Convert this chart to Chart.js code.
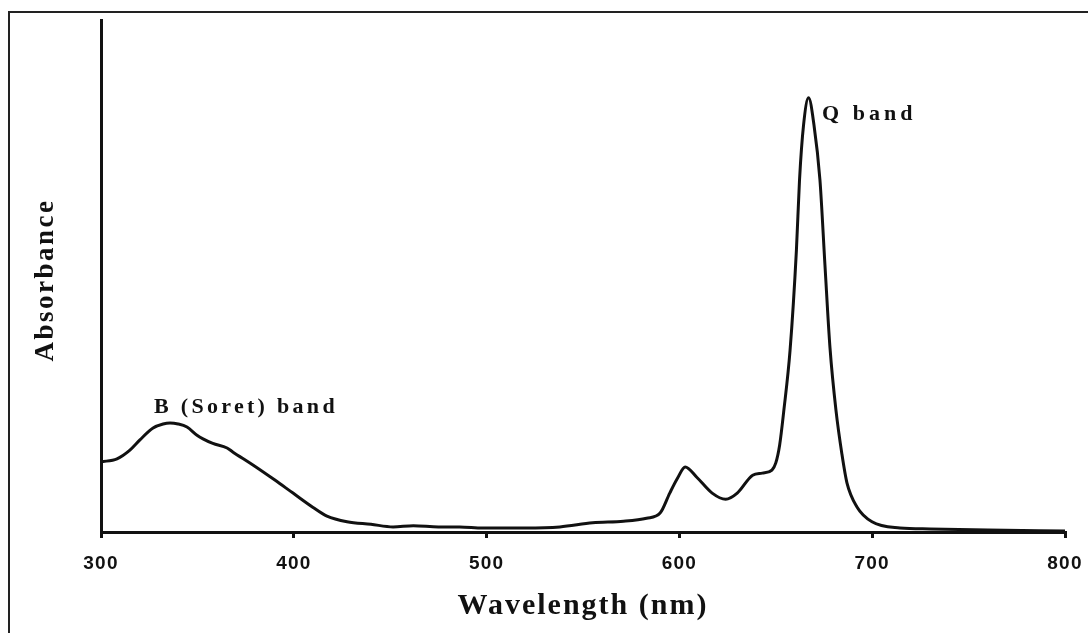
<!DOCTYPE html>
<html>
<head>
<meta charset="utf-8">
<script src="https://cdn.jsdelivr.net/npm/chart.js@4.4.1/dist/chart.umd.min.js"></script>
<style>
  html, body { margin: 0; padding: 0; background: #fff; }
  canvas { display: block; }
</style>
</head>
<body>
<canvas id="c" width="1088" height="633"></canvas>
<script>
// ---- data ----
const wavelengths = [300, 308.3, 315, 320.2, 327, 332.2, 335.8, 340, 344.6, 349.8, 352.9, 358, 365.4, 368.5, 378.8, 390, 399.6, 410, 417.2, 427.6, 440, 451.5, 462, 475, 486, 498, 520, 538, 555, 571, 583, 590, 595, 599, 603, 609, 617, 624, 630, 638, 643, 648, 650, 652, 654.1, 657.4, 660.7, 662.3, 664.4, 667, 669.8, 672.9, 675.5, 678.1, 681.2, 684.3, 686.9, 692.1, 699.9, 714.4, 730, 760, 800];
const absorbance  = [0.137, 0.143, 0.160, 0.180, 0.203, 0.211, 0.213, 0.211, 0.205, 0.189, 0.182, 0.173, 0.164, 0.156, 0.131, 0.102, 0.076, 0.048, 0.031, 0.020, 0.015, 0.010, 0.012, 0.010, 0.010, 0.008, 0.008, 0.010, 0.018, 0.021, 0.027, 0.037, 0.076, 0.105, 0.127, 0.107, 0.076, 0.064, 0.076, 0.111, 0.115, 0.121, 0.135, 0.170, 0.235, 0.355, 0.551, 0.6875, 0.795, 0.848, 0.795, 0.6875, 0.521, 0.360, 0.238, 0.152, 0.096, 0.049, 0.020, 0.008, 0.006, 0.004, 0.002];
const xTicks = [300, 400, 500, 600, 700, 800];
const xTitle = 'Wavelength (nm)';
const yTitle = 'Absorbance';
const annotations = [
  { text: 'Q band', x: 674.0, y: 0.805, spacing: 4 },
  { text: 'B (Soret) band', x: 327.5, y: 0.232, spacing: 3.3 }
];

const points = wavelengths.map((w, i) => ({ x: w, y: absorbance[i] }));

const decor = {
  id: 'decor',
  beforeDraw(chart) {
    const ctx = chart.ctx;
    ctx.save();
    ctx.fillStyle = '#fff';
    ctx.fillRect(0, 0, chart.width, chart.height);
    ctx.restore();
    ctx.letterSpacing = '1.2px';
  },
  afterDraw(chart) {
    const ctx = chart.ctx;
    const a = chart.chartArea;
    const xs = chart.scales.x, ys = chart.scales.y;
    ctx.save();
    // frame (left + top)
    ctx.strokeStyle = '#222';
    ctx.lineWidth = 2;
    ctx.beginPath();
    ctx.moveTo(9, chart.height);
    ctx.lineTo(9, 12);
    ctx.lineTo(chart.width, 12);
    ctx.stroke();

    ctx.fillStyle = '#111';
    // x title
    ctx.letterSpacing = '2px';
    ctx.font = 'bold 30px "Liberation Serif", "Times New Roman", serif';
    ctx.textAlign = 'center';
    ctx.textBaseline = 'alphabetic';
    ctx.fillText(xTitle, (a.left + a.right) / 2, 614);
    // y title
    ctx.save();
    ctx.letterSpacing = '2.5px';
    ctx.font = 'bold 27px "Liberation Serif", "Times New Roman", serif';
    ctx.translate(53, (a.top + a.bottom) / 2 + 4);
    ctx.rotate(-Math.PI / 2);
    ctx.fillText(yTitle, 0, 0);
    ctx.restore();
    // annotations
    ctx.textAlign = 'left';
    ctx.font = 'bold 22px "Liberation Serif", "Times New Roman", serif';
    annotations.forEach(an => {
      ctx.letterSpacing = an.spacing + 'px';
      ctx.fillText(an.text, xs.getPixelForValue(an.x), ys.getPixelForValue(an.y));
    });
    ctx.restore();
    ctx.letterSpacing = '0px';
  }
};

new Chart(document.getElementById('c'), {
  type: 'line',
  data: {
    datasets: [{
      data: points,
      borderColor: '#111',
      borderWidth: 3,
      pointRadius: 0,
      fill: false,
      cubicInterpolationMode: 'monotone',
      tension: 0.4
    }]
  },
  options: {
    responsive: false,
    animation: false,
    events: [],
    layout: { padding: { left: 0, right: 23, top: 20, bottom: 0 } },
    plugins: { legend: { display: false }, tooltip: { enabled: false }, title: { display: false } },
    scales: {
      x: {
        type: 'linear',
        min: 300, max: 800,
        afterBuildTicks(scale) { scale.ticks = xTicks.map(v => ({ value: v })); },
        afterFit(scale) { scale.height = 101; scale.paddingLeft = 0; scale.paddingRight = 0; },
        grid: { display: true, drawOnChartArea: false, drawTicks: true, tickLength: 6, color: '#111', lineWidth: 3 },
        border: { display: true, color: '#111', width: 3 },
        ticks: {
          color: '#111',
          padding: 14,
          maxRotation: 0,
          autoSkip: false,
          font: { family: '"Liberation Sans", Arial, sans-serif', size: 19, weight: 'bold' },
          callback: v => String(v)
        }
      },
      y: {
        type: 'linear',
        min: 0, max: 1,
        afterFit(scale) { scale.width = 101; scale.paddingTop = 0; scale.paddingBottom = 0; },
        grid: { display: false },
        border: { display: true, color: '#111', width: 3 },
        ticks: { display: false }
      }
    }
  },
  plugins: [decor]
});
</script>
</body>
</html>
